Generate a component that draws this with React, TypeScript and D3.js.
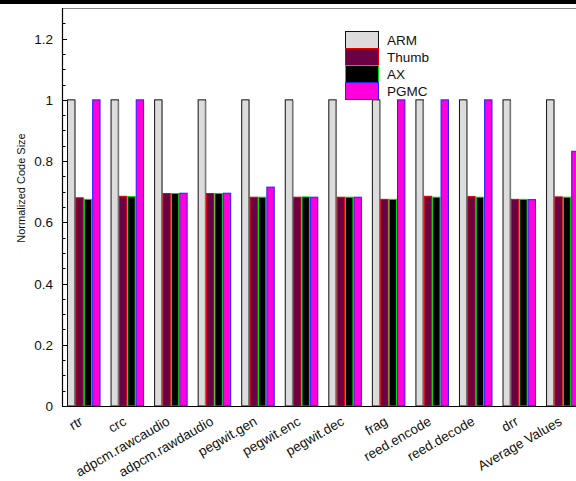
import React, { useEffect, useRef } from "react";
import * as d3 from "d3";

const categories = [
  "rtr", "crc", "adpcm.rawcaudio", "adpcm.rawdaudio", "pegwit.gen", "pegwit.enc",
  "pegwit.dec", "frag", "reed.encode", "reed.decode", "drr", "Average Values",
];
const seriesNames = ["ARM", "Thumb", "AX", "PGMC"];
const armValues = [1, 1, 1, 1, 1, 1, 1, 1, 1, 1, 1, 1];
const thumbValues = [0.68, 0.685, 0.694, 0.694, 0.682, 0.682, 0.682, 0.675, 0.685, 0.684, 0.675, 0.683];
const axValues = [0.675, 0.684, 0.694, 0.694, 0.682, 0.683, 0.682, 0.675, 0.682, 0.682, 0.675, 0.682];
const pgmcValues = [1, 1, 0.695, 0.695, 0.715, 0.682, 0.682, 1, 1, 1, 0.674, 0.832];
const yTicks = [0, 0.2, 0.4, 0.6, 0.8, 1, 1.2];

const fills = ["#dcdcdc", "#6b0043", "#000000", "#ff00dd"];
const strokes = ["#111111", "#e00000", "#00dd00", "#2020ff"];
const font = "Liberation Sans, Arial, sans-serif";

export default function App() {
  const ref = useRef<SVGSVGElement>(null);

  useEffect(() => {
    const svg = d3.select(ref.current);
    svg.selectAll("*").remove();
    const left = 62, top = 8, bottom = 406;
    const step = 43.55;
    const plotW = step * categories.length;

    const x = d3.scaleBand().domain(categories).range([left, left + plotW]).paddingInner(0.23).paddingOuter(0.115);
    const xs = d3.scaleBand().domain(seriesNames).range([0, x.bandwidth()]);
    const y = d3.scaleLinear().domain([0, 1.3]).range([bottom, top]);

    // page top rule
    svg.append("rect").attr("x", 0).attr("y", 0).attr("width", 576).attr("height", 4).attr("fill", "#000");

    const data = [armValues, thumbValues, axValues, pgmcValues];
    categories.forEach((c, i) => {
      seriesNames.forEach((s, j) => {
        const v = data[j][i];
        svg.append("rect")
          .attr("x", x(c)! + xs(s)! + 0.5)
          .attr("y", y(v))
          .attr("width", xs.bandwidth() - 1)
          .attr("height", bottom - y(v))
          .attr("fill", fills[j])
          .attr("stroke", strokes[j])
          .attr("stroke-width", 1);
        if (j === 0) {
          svg.append("line")
            .attr("x1", x(c)! + xs(s)! + xs.bandwidth() - 0.5)
            .attr("x2", x(c)! + xs(s)! + xs.bandwidth() - 0.5)
            .attr("y1", y(v) + 1).attr("y2", bottom)
            .attr("stroke", "#777").attr("stroke-width", 1.5);
        }
      });
    });

    // frame
    svg.append("line").attr("x1", left).attr("x2", 576).attr("y1", top + 0.5).attr("y2", top + 0.5)
      .attr("stroke", "#888").attr("stroke-width", 1);
    svg.append("line").attr("x1", left + 0.5).attr("x2", left + 0.5).attr("y1", top).attr("y2", bottom)
      .attr("stroke", "#000").attr("stroke-width", 1.2);
    svg.append("line").attr("x1", left).attr("x2", 576).attr("y1", bottom + 0.5).attr("y2", bottom + 0.5)
      .attr("stroke", "#000").attr("stroke-width", 1.2);

    // y ticks
    const minor = d3.range(0, 1.3, 0.05);
    minor.forEach((t) => {
      const yy = Math.round(y(t)) + 0.5;
      svg.append("line").attr("x1", left).attr("x2", left + 3.5).attr("y1", yy).attr("y2", yy)
        .attr("stroke", "#000");
    });
    yTicks.forEach((t) => {
      const yy = Math.round(y(t)) + 0.5;
      svg.append("line").attr("x1", left).attr("x2", left + 5).attr("y1", yy).attr("y2", yy).attr("stroke", "#000");
      svg.append("text").attr("x", 53).attr("y", yy).attr("dy", "0.36em").attr("text-anchor", "end")
        .attr("font-family", font).attr("font-size", 13.5).attr("fill", "#111")
        .text(String(t));
    });

    svg.append("text")
      .attr("transform", `translate(25, 188) rotate(-90)`)
      .attr("text-anchor", "middle")
      .attr("font-family", font).attr("font-size", 11).attr("fill", "#111")
      .text("Normalized Code Size");

    // x labels
    categories.forEach((c) => {
      const cx = x(c)! + x.bandwidth() / 2;
      svg.append("text")
        .attr("transform", `translate(${cx}, 424) rotate(-30)`)
        .attr("text-anchor", "end")
        .attr("font-family", font).attr("font-size", 13.5).attr("fill", "#111")
        .text(c);
    });

    // legend
    seriesNames.forEach((s, j) => {
      const ly = 31 + j * 17;
      svg.append("rect").attr("x", 345.5).attr("y", ly + 0.5).attr("width", 33).attr("height", 17)
        .attr("fill", fills[j]).attr("stroke", strokes[j]);
      svg.append("text").attr("x", 387).attr("y", ly + 9).attr("dy", "0.36em")
        .attr("font-family", font).attr("font-size", 13.5).attr("fill", "#111")
        .text(s);
    });
  }, []);

  return <svg ref={ref} width={576} height={481} style={{ position: "absolute", left: 0, top: 0 }} />;
}
